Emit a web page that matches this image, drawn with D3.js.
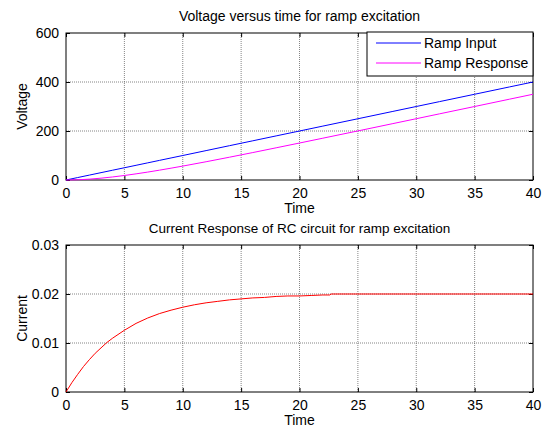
<!DOCTYPE html>
<html><head><meta charset="utf-8">
<script src="https://cdn.jsdelivr.net/npm/d3@7"></script>
<style>
body{margin:0;background:#fff;}
text{font-family:"Liberation Sans",Arial,sans-serif;fill:#000;}
</style></head>
<body><svg id="c" width="545" height="433"></svg>
<script>
// Top subplot data
const timeV = [0,1,2,3,4,5,6,7,8,9,10,12,14,16,18,20,22,25,28,30,32,35,38,40];
const rampInput = [0,10,20,30,40,50,60,70,80,90,100,120,140,160,180,200,220,250,280,300,320,350,380,400];
const rampResponse = [0,0.9,3.5,7.4,12.5,18.4,25.1,32.3,40.1,48.3,56.8,74.5,93,112,131.4,150.9,170.6,200.3,230.2,250.1,270.1,300,330,350];
// Bottom subplot data
const timeI = [0,0.5,1,1.5,2,2.5,3,3.5,4,5,6,7,8,9,10,11,12,13,14,15,16,17,18,19,20,21,22,22.6,22.7,25,30,35,40];
const current = [0,0.0019,0.0036,0.0052,0.0066,0.0079,0.0090,0.0101,0.0110,0.0126,0.0140,0.0151,0.0160,0.0167,0.0173,0.0178,0.0182,0.0185,0.0188,0.0190,0.0192,0.0193,0.0195,0.0196,0.0196,0.0197,0.0198,0.0198,0.0200,0.0200,0.0200,0.0200,0.0200];
const xTicks = [0,5,10,15,20,25,30,35,40];
const vTicks = [0,200,400,600];
const iTicks = [0,0.01,0.02,0.03];
const legendLabels = ["Ramp Input","Ramp Response"];
const colors = ["#0000ff","#ff00ff"];

const svg = d3.select("#c");
const L = 66, R = 533;
const FS = "14px";

function panel(top, bottom, yMax, yTicks, yFmt, title, titleSize, ylabel) {
  const x = d3.scaleLinear().domain([0,40]).range([L,R]);
  const y = d3.scaleLinear().domain([0,yMax]).range([bottom,top]);
  const g = svg.append("g");
  // grid
  g.selectAll(".gx").data(xTicks.slice(1,-1)).enter().append("line")
    .attr("x1",d=>x(d)).attr("x2",d=>x(d)).attr("y1",top).attr("y2",bottom)
    .attr("stroke","#666").attr("stroke-width",0.8).attr("stroke-dasharray","1,1");
  g.selectAll(".gy").data(yTicks.slice(1,-1)).enter().append("line")
    .attr("y1",d=>y(d)).attr("y2",d=>y(d)).attr("x1",L).attr("x2",R)
    .attr("stroke","#666").attr("stroke-width",0.8).attr("stroke-dasharray","1,1");
  // axes with inward ticks
  const ax = d3.axisBottom(x).tickValues(xTicks).tickSizeInner(-4).tickSizeOuter(0).tickPadding(8).tickFormat(d3.format("d"));
  const axT = d3.axisTop(x).tickValues(xTicks).tickSizeInner(-4).tickSizeOuter(0).tickFormat("");
  const ay = d3.axisLeft(y).tickValues(yTicks).tickSizeInner(-4).tickSizeOuter(0).tickPadding(7).tickFormat(yFmt);
  const ayR = d3.axisRight(y).tickValues(yTicks).tickSizeInner(-4).tickSizeOuter(0).tickFormat("");
  [[ax,`translate(0,${bottom})`],[axT,`translate(0,${top})`],[ay,`translate(${L},0)`],[ayR,`translate(${R},0)`]].forEach(([a,t])=>{
    const gg = g.append("g").attr("transform",t).call(a);
    gg.select(".domain").remove();
    gg.selectAll("line").attr("stroke","#000");
    gg.selectAll("text").style("font-size",FS).style("font-family","'Liberation Sans',Arial,sans-serif");
  });
  g.append("rect").attr("x",L).attr("y",top).attr("width",R-L).attr("height",bottom-top)
    .attr("fill","none").attr("stroke","#000").attr("stroke-width",1);
  g.append("text").attr("x",(L+R)/2).attr("y",top-12).attr("text-anchor","middle").style("font-size",titleSize).text(title);
  g.append("text").attr("x",(L+R)/2).attr("y",bottom+33).attr("text-anchor","middle").style("font-size",FS).text("Time");
  g.append("text").attr("transform",`translate(${L-39},${(top+bottom)/2}) rotate(-90)`).attr("text-anchor","middle").style("font-size",FS).text(ylabel);
  return {x,y,g};
}

const p1 = panel(33,180,600,vTicks,d3.format("d"),"Voltage versus time for ramp excitation","14px","Voltage");
const line1 = d3.line().x((d,i)=>p1.x(timeV[i])).y(d=>p1.y(d));
p1.g.append("path").datum(rampInput).attr("d",line1).attr("fill","none").attr("stroke",colors[0]).attr("stroke-width",1);
p1.g.append("path").datum(rampResponse).attr("d",line1).attr("fill","none").attr("stroke",colors[1]).attr("stroke-width",1);
// legend
const lg = p1.g.append("g");
lg.append("rect").attr("x",367).attr("y",32).attr("width",533-367).attr("height",44).attr("fill","#fff").attr("stroke","#000");
legendLabels.forEach((lab,i)=>{
  const yy = 43 + i*20;
  lg.append("line").attr("x1",376).attr("x2",421).attr("y1",yy).attr("y2",yy).attr("stroke",colors[i]).attr("stroke-width",1);
  lg.append("text").attr("x",424).attr("y",yy+5).style("font-size",FS).text(lab);
});

const p2 = panel(245,392,0.03,iTicks,d=>d===0?"0":d3.format(".2f")(d),"Current Response of RC circuit for ramp excitation","13.5px","Current");
const line2 = d3.line().x((d,i)=>p2.x(timeI[i])).y(d=>p2.y(d));
p2.g.append("path").datum(current).attr("d",line2).attr("fill","none").attr("stroke","#ff0000").attr("stroke-width",1);
</script></body></html>
